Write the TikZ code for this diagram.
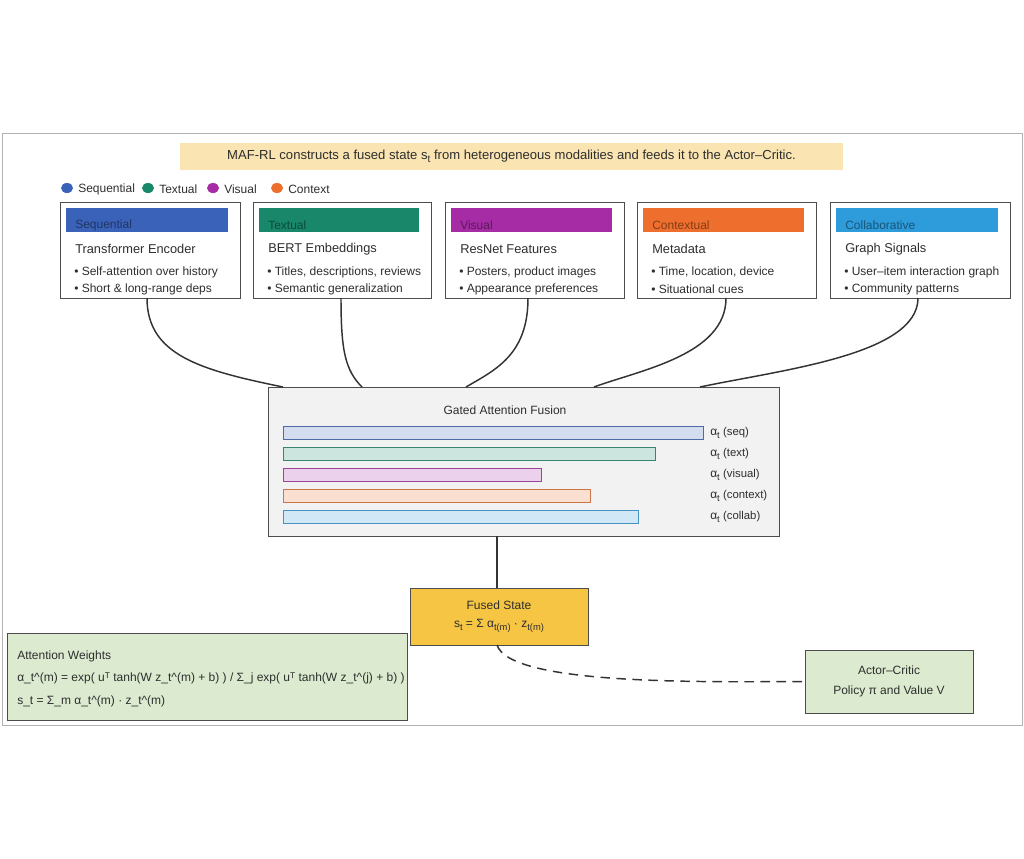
\documentclass[tikz,border=0pt]{standalone}
\usepackage{fontspec}
\setmainfont{Liberation Sans}
\newcommand{\lowr}[1]{\raisebox{-0.45ex}{\fontsize{0.78em}{1em}\selectfont #1}}
\begin{document}
\begin{tikzpicture}[x=0.75pt,y=-0.75pt,font=\fontsize{9}{11}\selectfont,text=black!82,
  mbox/.style={draw=black!70,line width=0.7pt,fill=white},
  hdr/.style={anchor=west,inner sep=0pt},
  conn/.style={line width=1.1pt,black!80},
  bar/.style={line width=0.6pt}]
\definecolor{cseq}{HTML}{3A62B8}\definecolor{ctext}{HTML}{18876A}
\definecolor{cvis}{HTML}{A62CA6}\definecolor{cctx}{HTML}{EE6F2D}
\definecolor{ccol}{HTML}{2E9BDB}\definecolor{green0}{HTML}{DCEBD0}
\useasboundingbox (0,0) rectangle (1024,858);
\draw[black!30] (2,133) rectangle (1022,725);
\node[fill={rgb,255:red,249;green,228;blue,178},minimum width=663*0.75pt,minimum height=27*0.75pt,inner sep=0pt,font=\fontsize{9.8}{12}\selectfont] (banner) at (511.5,156.5) {MAF-RL constructs a fused state s\lowr{t} from heterogeneous modalities and feeds it to the Actor--Critic.};
% legend
\foreach \x/\c/\t in {67/cseq/Sequential,148/ctext/Textual,213/cvis/Visual,277/cctx/Context}{
  \fill[\c] (\x,188) ellipse (6 and 5);
  \node[anchor=west,inner sep=0pt] at (\x+11,189.5) {\t};}
% modality boxes
\foreach \n/\xa/\xb/\c/\h/\ti/\ba/\bb in {
  b1/60/240/cseq/Sequential/Transformer Encoder/Self-attention over history/Short \& long-range deps,
  b2/253/431/ctext/Textual/BERT Embeddings/{Titles, descriptions, reviews}/Semantic generalization,
  b3/445/624/cvis/Visual/ResNet Features/{Posters, product images}/Appearance preferences,
  b4/637/816/cctx/Contextual/Metadata/{Time, location, device}/Situational cues,
  b5/830/1010/ccol/Collaborative/Graph Signals/User--item interaction graph/Community patterns}{
  \node[mbox,minimum width=(\xb-\xa)*0.75pt,minimum height=96*0.75pt,inner sep=0pt] (\n) at ({(\xa+\xb)/2},250) {};
  \fill[\c] (\xa+6,208) rectangle (\xb-12,232);
  \node[hdr,text=\c!55!black] at (\xa+15,225) {\h};
  \node[hdr,font=\fontsize{9.6}{11}\selectfont] at (\xa+15,249) {\ti};
  \node[hdr] at (\xa+14,272) {\textbullet\ \ba};
  \node[hdr] at (\xa+14,289) {\textbullet\ \bb};
}
% fusion box
\node[draw=black!70,line width=0.7pt,fill=black!5,minimum width=511*0.75pt,minimum height=149*0.75pt,inner sep=0pt] (fus) at (523.5,461.5) {};
\node at (505,410) {Gated Attention Fusion};
\foreach \e/\c/\y/\l in {703/cseq/433/seq,655/ctext/454/text,541/cvis/475/visual,590/cctx/496/context,638/ccol/517/collab}{
  \draw[bar,draw=\c!70!gray,fill=\c!22] (283,\y-6.5) rectangle (\e,\y+6.5);
  \node[anchor=west,inner sep=0pt] at (710,\y) {α\lowr{t} {\fontsize{8.5}{9}\selectfont(\l)}};}
% connectors
\coordinate (f1) at (283,387);\coordinate (f2) at (362,387);\coordinate (f3) at (466,387);
\coordinate (f4) at (594,387);\coordinate (f5) at (700,387);
\draw[conn] (147,298) .. controls (147,355) and (200,370) .. (f1);
\draw[conn] (341,298) .. controls (341,350) and (345,370) .. (f2);
\draw[conn] (528,298) .. controls (528,355) and (495,370) .. (f3);
\draw[conn] (726,298) .. controls (726,355) and (640,370) .. (f4);
\draw[conn] (918,298) .. controls (918,355) and (780,370) .. (f5);
% fused
\node[draw=black!70,line width=0.7pt,fill={rgb,255:red,247;green,197;blue,68},minimum width=178*0.75pt,minimum height=57*0.75pt,inner sep=0pt,align=center] (fs) at (499,616.5) {Fused State\\[3pt] s\lowr{t} = Σ α\lowr{t(m)} · z\lowr{t(m)}};
\draw[conn] (497,536) -- (497,588);
% actor
\node[draw=black!70,line width=0.7pt,fill=green0,minimum width=168*0.75pt,minimum height=63*0.75pt,inner sep=0pt,align=center] (ac) at (889,681.5) {Actor--Critic\\[4pt] Policy π and Value V};
\draw[conn,dash pattern=on 7pt off 5pt] (497,645) .. controls (510,685) and (700,682) .. (ac.west);
% attention weights
\node[draw=black!70,line width=0.7pt,fill=green0,minimum width=400*0.75pt,minimum height=87*0.75pt,inner sep=0pt] (aw) at (207,676.5) {};
\node[hdr] at (17,656) {Attention Weights};
\node[hdr] at (17,678) {α\_t\textasciicircum(m) = exp( uᵀ tanh(W z\_t\textasciicircum(m) + b) ) / Σ\_j exp( uᵀ tanh(W z\_t\textasciicircum(j) + b) )};
\node[hdr] at (17,701) {s\_t = Σ\_m α\_t\textasciicircum(m) · z\_t\textasciicircum(m)};
\end{tikzpicture}
\end{document}
